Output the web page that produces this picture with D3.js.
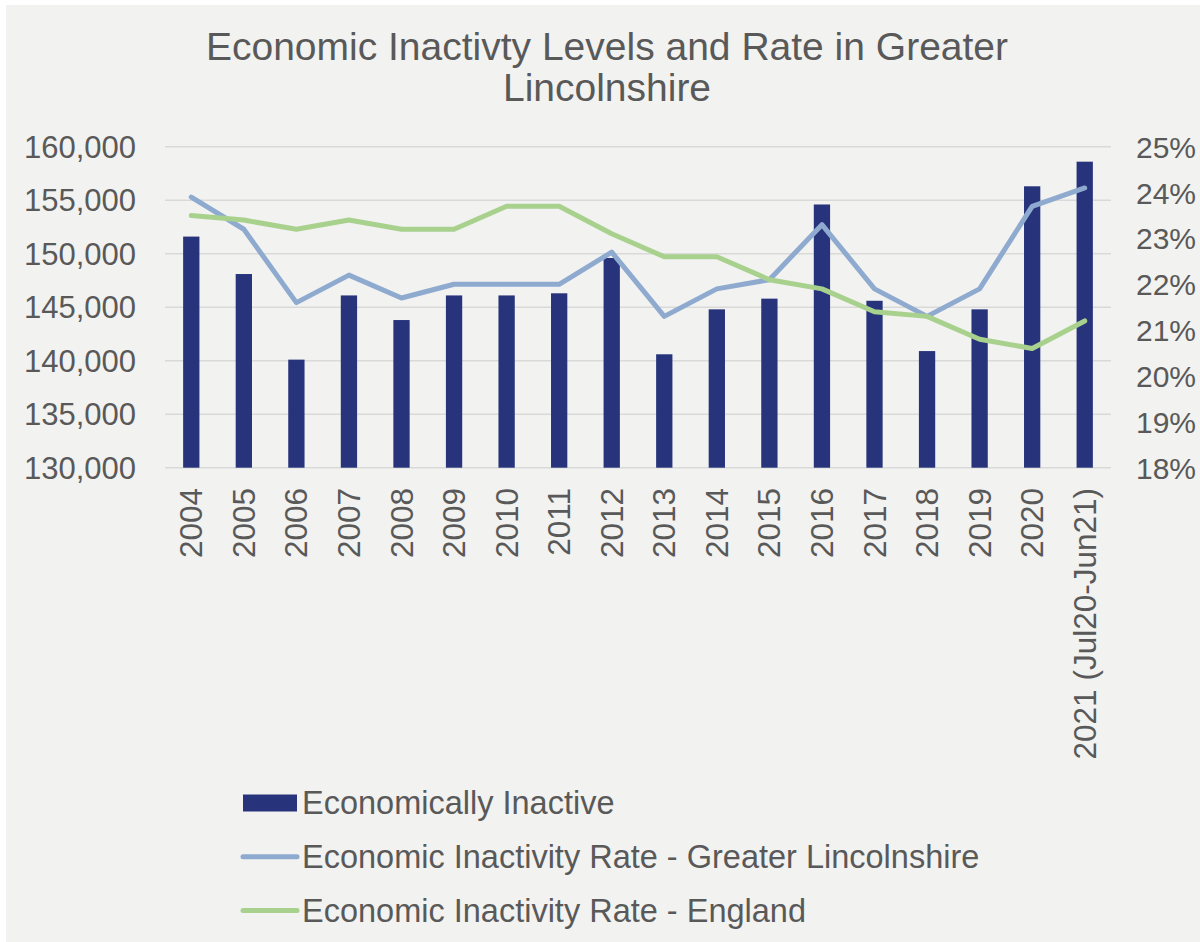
<!DOCTYPE html>
<html>
<head>
<meta charset="utf-8">
<script src="https://cdn.jsdelivr.net/npm/d3@7"></script>
<style>
  html, body { margin: 0; padding: 0; background: #ffffff; }
  svg { display: block; }
  text { font-family: "Liberation Sans", Arial, sans-serif; fill: #595959; }
</style>
</head>
<body>
<svg id="chart" width="1200" height="942"></svg>
<script>
// Categories (years) and series values
const years = ["2004", "2005", "2006", "2007", "2008", "2009", "2010", "2011", "2012",
  "2013", "2014", "2015", "2016", "2017", "2018", "2019", "2020", "2021 (Jul20-Jun21)"];
const economicallyInactive = [151600, 148100, 140100, 146100, 143800, 146100, 146100, 146300, 149600,
  140600, 144800, 145800, 154600, 145600, 140900, 144800, 156300, 158600];
const rateLincolnshire = [23.9, 23.2, 21.6, 22.2, 21.7, 22.0, 22.0, 22.0, 22.7,
  21.3, 21.9, 22.1, 23.3, 21.9, 21.3, 21.9, 23.7, 24.1];
const rateEngland = [23.5, 23.4, 23.2, 23.4, 23.2, 23.2, 23.7, 23.7, 23.1,
  22.6, 22.6, 22.1, 21.9, 21.4, 21.3, 20.8, 20.6, 21.2];

// Axis ticks
const leftTicks = [130000, 135000, 140000, 145000, 150000, 155000, 160000];
const rightTicks = [18, 19, 20, 21, 22, 23, 24, 25];

const titleLines = ["Economic Inactivty Levels and Rate in Greater", "Lincolnshire"];
const legendItems = [
  { label: "Economically Inactive", kind: "bar", color: "#27347b" },
  { label: "Economic Inactivity Rate - Greater Lincolnshire", kind: "line", color: "#8faacf" },
  { label: "Economic Inactivity Rate - England", kind: "line", color: "#a9d18e" }
];

const svg = d3.select("#chart");

// Chart area background
svg.append("rect").attr("x", 6).attr("y", 5).attr("width", 1194).attr("height", 937)
  .attr("fill", "#f2f2f0");

const plot = { left: 165, right: 1111, top: 146.7, bottom: 467.7 };

const x = d3.scaleBand().domain(years).range([plot.left, plot.right]).padding(0);
const yLeft = d3.scaleLinear().domain([130000, 160000]).range([plot.bottom, plot.top]);
const yRight = d3.scaleLinear().domain([18, 25]).range([plot.bottom, plot.top]);

// Title
svg.append("g").selectAll("text").data(titleLines).join("text")
  .attr("x", 607)
  .attr("y", (d, i) => 60 + i * 40.5)
  .attr("text-anchor", "middle")
  .style("font-size", "39px")
  .text(d => d);

// Gridlines
svg.append("g").selectAll("line").data(leftTicks).join("line")
  .attr("x1", plot.left).attr("x2", plot.right)
  .attr("y1", d => yLeft(d)).attr("y2", d => yLeft(d))
  .attr("stroke", "#d9d9d9").attr("stroke-width", 1.6);

// Left axis labels
const fmt = d3.format(",");
svg.append("g").selectAll("text").data(leftTicks).join("text")
  .attr("x", 136)
  .attr("y", d => yLeft(d) + 11)
  .attr("text-anchor", "end")
  .style("font-size", "31px")
  .text(d => fmt(d));

// Right axis labels
svg.append("g").selectAll("text").data(rightTicks).join("text")
  .attr("x", 1196)
  .attr("y", d => yRight(d) + 11)
  .attr("text-anchor", "end")
  .style("font-size", "30px")
  .text(d => d + "%");

// Bars
const barW = x.bandwidth() * 0.31;
svg.append("g").selectAll("rect").data(years).join("rect")
  .attr("x", d => x(d) + (x.bandwidth() - barW) / 2)
  .attr("y", (d, i) => yLeft(economicallyInactive[i]))
  .attr("width", barW)
  .attr("height", (d, i) => yLeft(130000) - yLeft(economicallyInactive[i]))
  .attr("fill", "#27347b");

// Rate lines
const cx = d => x(d) + x.bandwidth() / 2;
const lineGen = vals => d3.line()
  .x(d => cx(d))
  .y((d, i) => yRight(vals[i]))(years);

svg.append("path").attr("d", lineGen(rateLincolnshire))
  .attr("fill", "none").attr("stroke", "#8faacf").attr("stroke-width", 5)
  .attr("stroke-linejoin", "round").attr("stroke-linecap", "round");
svg.append("path").attr("d", lineGen(rateEngland))
  .attr("fill", "none").attr("stroke", "#a9d18e").attr("stroke-width", 5)
  .attr("stroke-linejoin", "round").attr("stroke-linecap", "round");

// Category labels, rotated
svg.append("g").selectAll("text").data(years).join("text")
  .attr("transform", d => `translate(${cx(d) + 11},488) rotate(-90)`)
  .attr("text-anchor", "end")
  .style("font-size", "31.5px")
  .text(d => d);

// Legend
const legendRowY = [803, 856.7, 910.5];
const legend = svg.append("g");
legendItems.forEach((item, i) => {
  const cy = legendRowY[i];
  if (item.kind === "bar") {
    legend.append("rect").attr("x", 243).attr("y", cy - 8.5).attr("width", 54).attr("height", 17)
      .attr("fill", item.color);
  } else {
    legend.append("line").attr("x1", 243).attr("x2", 297).attr("y1", cy).attr("y2", cy)
      .attr("stroke", item.color).attr("stroke-width", 5).attr("stroke-linecap", "round");
  }
  legend.append("text").attr("x", 302).attr("y", cy + 11)
    .style("font-size", "32.5px")
    .text(item.label);
});
</script>
</body>
</html>
